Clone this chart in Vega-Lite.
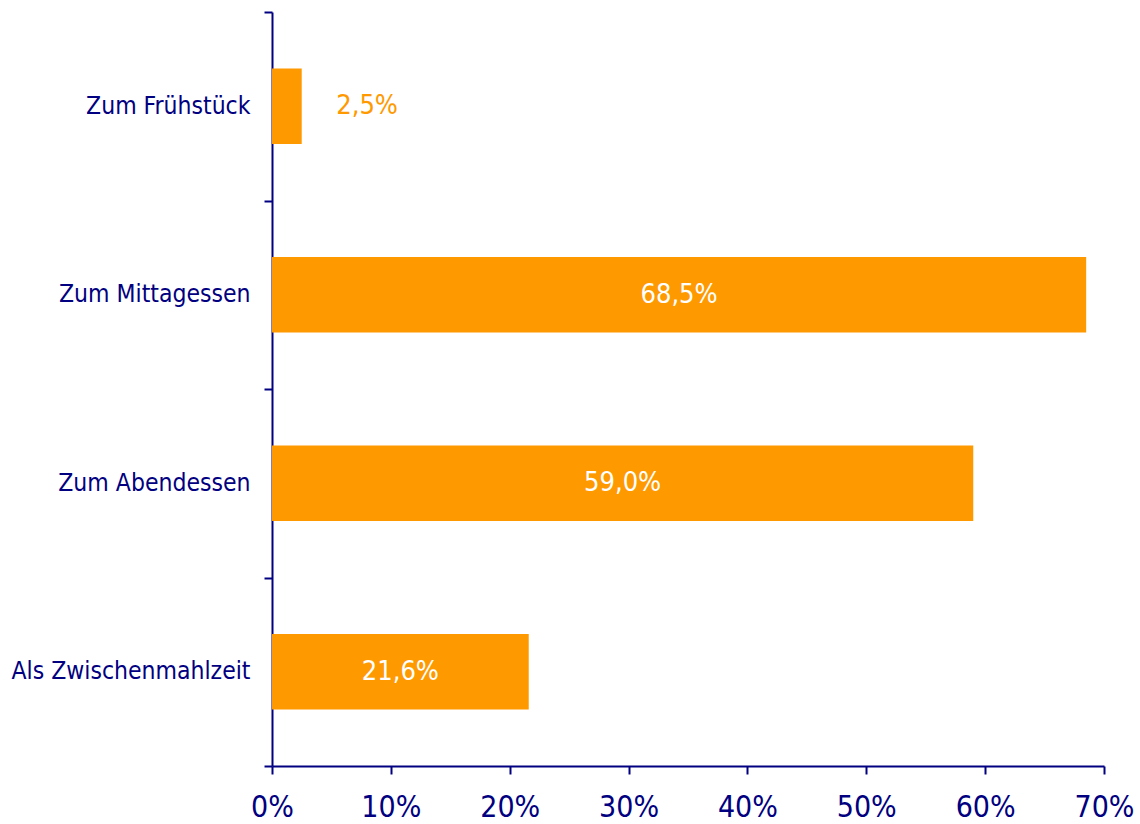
{
  "$schema": "https://vega.github.io/schema/vega-lite/v6.json",
  "autosize": "none",
  "width": 832,
  "height": 754,
  "padding": {"left": 272, "top": 12, "right": 36, "bottom": 58},
  "background": "white",
  "config": {
    "view": {"stroke": null},
    "font": "DejaVu Sans Condensed",
    "locale": {"number": {"decimal": ",", "thousands": ".", "grouping": [3], "currency": ["", " €"]}}
  },
  "data": {
    "values": [
      {"kategorie": "Zum Frühstück", "anteil": 0.025},
      {"kategorie": "Zum Mittagessen", "anteil": 0.685},
      {"kategorie": "Zum Abendessen", "anteil": 0.59},
      {"kategorie": "Als Zwischenmahlzeit", "anteil": 0.216}
    ]
  },
  "encoding": {
    "y": {
      "field": "kategorie",
      "type": "nominal",
      "sort": null,
      "scale": {"paddingInner": 0, "paddingOuter": 0},
      "axis": {
        "title": null,
        "domainColor": "#000080",
        "domainWidth": 2,
        "tickColor": "#000080",
        "tickWidth": 2,
        "tickSize": 8,
        "tickBand": "extent",
        "labelColor": "#000080",
        "labelFontSize": 24.5,
        "labelPadding": 14,
        "labelLimit": 400,
        "labelFont": "DejaVu Sans Condensed"
      }
    }
  },
  "layer": [
    {
      "mark": {"type": "bar", "color": "#FF9900", "height": {"band": 0.4}},
      "encoding": {
        "x": {
          "field": "anteil",
          "type": "quantitative",
          "scale": {"domain": [0, 0.7], "nice": false},
          "axis": {
            "title": null,
            "format": ".0%",
            "values": [0, 0.1, 0.2, 0.3, 0.4, 0.5, 0.6, 0.7],
            "grid": false,
            "domainColor": "#000080",
            "domainWidth": 2,
            "tickColor": "#000080",
            "tickWidth": 2,
            "tickSize": 8,
            "labelColor": "#000080",
            "labelFontSize": 30,
            "labelPadding": 18,
            "labelFont": "DejaVu Sans Condensed",
            "labelFlush": false
          }
        }
      }
    },
    {
      "transform": [
        {"calculate": "datum.anteil > 0.1 ? datum.anteil / 2 : datum.anteil + 0.055", "as": "pos"}
      ],
      "mark": {"type": "text", "fontSize": 27, "font": "DejaVu Sans Condensed", "align": "center", "baseline": "middle"},
      "encoding": {
        "x": {"field": "pos", "type": "quantitative"},
        "text": {"field": "anteil", "type": "quantitative", "format": ".1%"},
        "color": {
          "condition": {"test": "datum.anteil > 0.1", "value": "white"},
          "value": "#FF9900"
        }
      }
    }
  ]
}
